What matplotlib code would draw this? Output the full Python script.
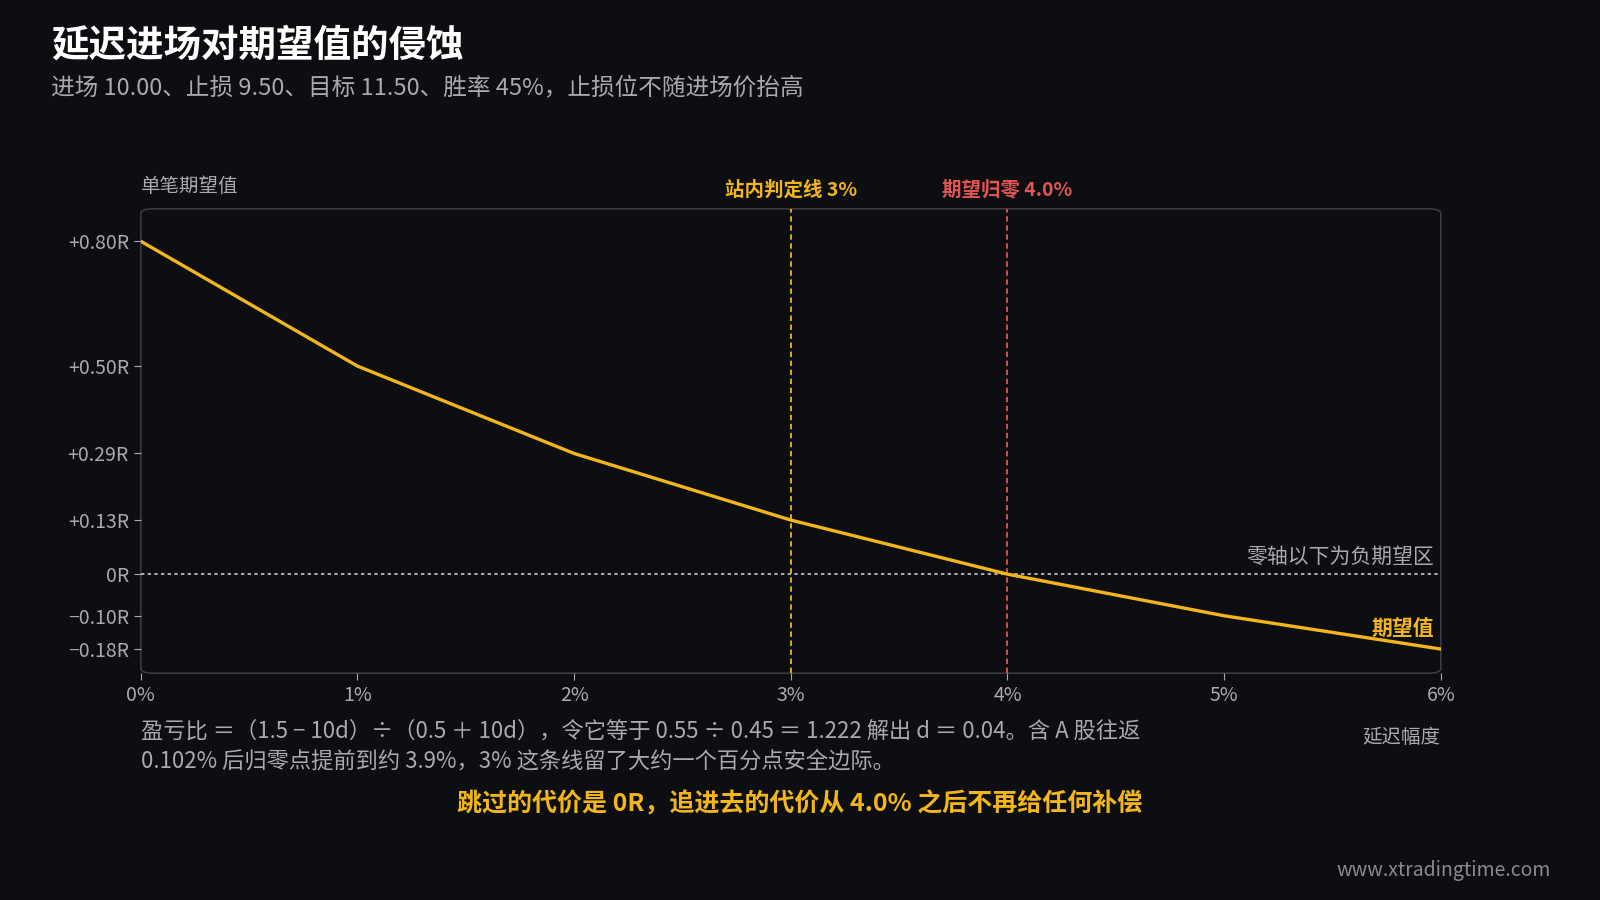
import matplotlib.pyplot as plt
from matplotlib.patches import FancyBboxPatch

plt.rcParams['font.family'] = ['Noto Sans CJK SC', 'DejaVu Sans']

delay_pct = [0, 1, 2, 3, 4, 5, 6]
expectancy = [0.80, 0.50, 0.29, 0.13, 0.0, -0.10, -0.18]
ytick_vals = [0.80, 0.50, 0.29, 0.13, 0.0, -0.10, -0.18]
ytick_labels = ["+0.80R", "+0.50R", "+0.29R", "+0.13R", "0R", "\u22120.10R", "\u22120.18R"]
xtick_labels = ["0%", "1%", "2%", "3%", "4%", "5%", "6%"]
judge_line = 3
zero_cross = 4.0

BG = "#0d0e12"
GOLD = "#f2b61c"
RED = "#e25555"
GRID = "#3a3b40"
TXT = "#a9aab0"

fig = plt.figure(figsize=(16, 9), dpi=100, facecolor=BG)
ax = fig.add_axes([0.088, 0.252, 0.8125, 0.516])
ax.set_facecolor(BG)

ax.plot(delay_pct, expectancy, color=GOLD, lw=2.4, zorder=3)
ax.axhline(0, color="#c8c8c8", lw=1.2, ls=(0, (2, 2)), zorder=2)
ax.axvline(judge_line, color=GOLD, lw=1.3, ls=(0, (3, 2)), zorder=2)
ax.axvline(zero_cross, color=RED, lw=1.3, ls=(0, (3, 2)), zorder=2)

ax.set_xlim(0, 6)
ax.set_ylim(-0.238, 0.878)
ax.set_xticks(delay_pct)
ax.set_xticklabels(xtick_labels)
ax.set_yticks(ytick_vals)
ax.set_yticklabels(ytick_labels)
ax.tick_params(colors=TXT, labelsize=14, length=5, color=TXT)
for s in ax.spines.values():
    s.set_visible(False)
frame = FancyBboxPatch((0, 0), 1, 1, boxstyle="round,pad=0,rounding_size=0.01",
                       transform=ax.transAxes, fill=False, ec=GRID, lw=1.2, clip_on=False)
ax.add_patch(frame)

ax.text(0, 1.025, "单笔期望值", transform=ax.transAxes, color=TXT, fontsize=14, va="bottom")
ax.text(judge_line, 0.9, "站内判定线 3%", color=GOLD, fontsize=14, fontweight="bold",
        ha="center", va="bottom")
ax.text(zero_cross, 0.9, "期望归零 4.0%", color=RED, fontsize=14, fontweight="bold",
        ha="center", va="bottom")
ax.text(5.97, 0.015, "零轴以下为负期望区", color=TXT, fontsize=15, ha="right", va="bottom")
ax.text(5.97, -0.155, "期望值", color=GOLD, fontsize=15, fontweight="bold", ha="right", va="bottom")
ax.text(1.0, -0.115, "延迟幅度", transform=ax.transAxes, color=TXT, fontsize=14, ha="right", va="top")

fig.text(0.032, 0.95, "延迟进场对期望值的侵蚀", color="white", fontsize=27, fontweight="bold", va="center")
fig.text(0.032, 0.901, "进场 10.00、止损 9.50、目标 11.50、胜率 45%，止损位不随进场价抬高",
         color=TXT, fontsize=17, va="center")
fig.text(0.088, 0.188, "盈亏比 ＝（1.5 − 10d）÷（0.5 ＋ 10d），令它等于 0.55 ÷ 0.45 ＝ 1.222 解出 d ＝ 0.04。含 A 股往返",
         color=TXT, fontsize=16, va="center")
fig.text(0.088, 0.153, "0.102% 后归零点提前到约 3.9%，3% 这条线留了大约一个百分点安全边际。",
         color=TXT, fontsize=16, va="center")
fig.text(0.5, 0.107, "跳过的代价是 0R，追进去的代价从 4.0% 之后不再给任何补偿",
         color=GOLD, fontsize=18, fontweight="bold", ha="center", va="center")
fig.text(0.969, 0.033, "www.xtradingtime.com", color="#8a8b90", fontsize=14, ha="right", va="center")

fig.savefig("out.png", dpi=100, facecolor=BG)
